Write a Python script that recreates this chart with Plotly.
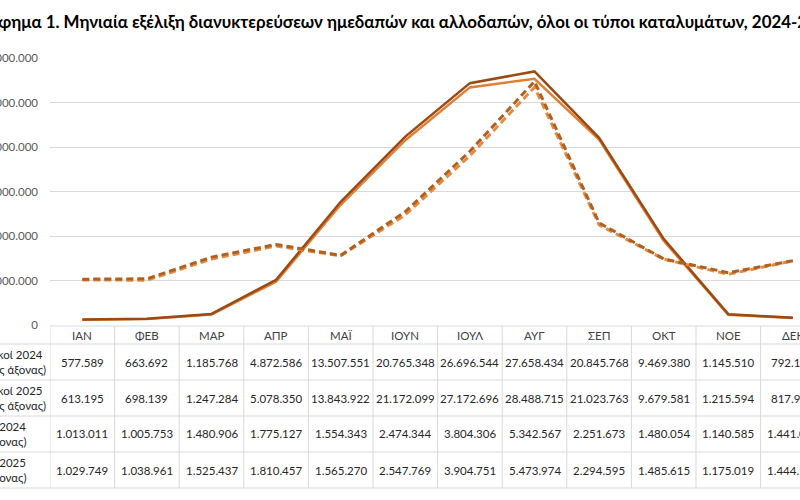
import plotly.graph_objects as go

months = ["ΙΑΝ", "ΦΕΒ", "ΜΑΡ", "ΑΠΡ", "ΜΑΪ", "ΙΟΥΝ", "ΙΟΥΛ", "ΑΥΓ", "ΣΕΠ", "ΟΚΤ", "ΝΟΕ", "ΔΕΚ"]
foreign_2024 = [577589, 663692, 1185768, 4872586, 13507551, 20765348, 26696544, 27658434, 20845768, 9469380, 1145510, 792150]
foreign_2025 = [613195, 698139, 1247284, 5078350, 13843922, 21172099, 27172696, 28488715, 21023763, 9679581, 1215594, 817950]
domestic_2024 = [1013011, 1005753, 1480906, 1775127, 1554343, 2474344, 3804306, 5342567, 2251673, 1480054, 1140585, 1441050]
domestic_2025 = [1029749, 1038961, 1525437, 1810457, 1565270, 2547769, 3904751, 5473974, 2294595, 1485615, 1175019, 1444150]

row_line1 = ["Εξωτερικοί 2024", "Εξωτερικοί 2025", "Ημεδαποί 2024", "Ημεδαποί 2025"]
row_line2 = ["(κύριος άξονας)", "(κύριος άξονας)", "(δευτερεύων άξονας)", "(δευτερεύων άξονας)"]
title = "Γράφημα 1. Μηνιαία εξέλιξη διανυκτερεύσεων ημεδαπών και αλλοδαπών, όλοι οι τύποι καταλυμάτων, 2024-2025"

FONT = "Lato, Roboto, sans-serif"
W, H = 800, 500
L, R, T, B = 50, 0, 58, 175
PH = H - T - B
PW = W - L - R


def py(p):
    return (H - B - p) / PH


def px(p):
    return (p - L) / PW


def fmt(v):
    return f"{v:,}".replace(",", ".")


fig = go.Figure()
fig.add_trace(go.Scatter(x=months, y=foreign_2024, mode="lines", line=dict(color="#E27F35", width=2.5), name="f24"))
fig.add_trace(go.Scatter(x=months, y=foreign_2025, mode="lines", line=dict(color="#9C4A13", width=2.5), name="f25"))
fig.add_trace(go.Scatter(x=months, y=domestic_2024, mode="lines", yaxis="y2",
                         line=dict(color="#E58A42", width=3, dash="7px,4px"), name="d24"))
fig.add_trace(go.Scatter(x=months, y=domestic_2025, mode="lines", yaxis="y2",
                         line=dict(color="#B2601F", width=3, dash="7px,4px"), name="d25"))

grid = "#D9D9D9"
shapes = []
shapes.append(dict(type="line", xref="paper", yref="paper", x0=0, x1=1.2, y0=py(326), y1=py(326),
                   line=dict(color=grid, width=1)))
for yl in [344, 380, 416, 452, 488]:
    shapes.append(dict(type="line", xref="paper", yref="paper", x0=px(-10), x1=1.2, y0=py(yl), y1=py(yl),
                       line=dict(color=grid, width=1)))
for k in range(13):
    shapes.append(dict(type="line", xref="x", yref="paper", x0=k - 0.5, x1=k - 0.5, y0=py(326), y1=py(488),
                       line=dict(color=grid, width=1)))

annotations = []
rows = [foreign_2024, foreign_2025, domestic_2024, domestic_2025]
row_centers = [362, 398, 434, 470]
for r, (vals, cy) in enumerate(zip(rows, row_centers)):
    for k, v in enumerate(vals):
        annotations.append(dict(x=months[k], y=py(cy), xref="x", yref="paper", text=fmt(v), showarrow=False,
                                xanchor="center", yanchor="middle", font=dict(family=FONT, size=11.5, color="#262626")))
right1 = [45, 45, 28, 28]
right2 = [48, 48, 29, 29]
for r, cy in enumerate(row_centers):
    annotations.append(dict(x=px(right1[r]), y=py(cy - 8), xref="paper", yref="paper", text=row_line1[r],
                            showarrow=False, xanchor="right", yanchor="middle",
                            font=dict(family=FONT, size=11.5, color="#262626")))
    annotations.append(dict(x=px(right2[r]), y=py(cy + 7), xref="paper", yref="paper", text=row_line2[r],
                            showarrow=False, xanchor="right", yanchor="middle",
                            font=dict(family=FONT, size=11.5, color="#262626")))
for k, m in enumerate(months):
    annotations.append(dict(x=m, y=py(335), xref="x", yref="paper", text=m, showarrow=False,
                            xanchor="center", yanchor="middle", font=dict(family=FONT, size=11.5, color="#404040")))
annotations.append(dict(x=px(-30), y=py(21), xref="paper", yref="paper", text="<b>" + title + "</b>",
                        showarrow=False, xanchor="left", yanchor="middle",
                        font=dict(family=FONT, size=16.9, color="#000000")))

fig.update_layout(
    width=W, height=H,
    margin=dict(l=L, r=R, t=T, b=B, autoexpand=False),
    paper_bgcolor="white", plot_bgcolor="white",
    separators=",.",
    showlegend=False,
    xaxis=dict(type="category", categoryorder="array", categoryarray=months, range=[-0.5, 11.11],
               showticklabels=False, showgrid=False, zeroline=False, showline=False, ticks="", automargin=False),
    yaxis=dict(range=[0, 30000000], dtick=5000000, tickformat=",d", showgrid=True, gridcolor=grid, gridwidth=1,
               zeroline=False, showline=False, ticks="", ticklabelstandoff=11, automargin=False,
               tickfont=dict(family=FONT, size=11.5, color="#595959")),
    yaxis2=dict(range=[0, 6000000], overlaying="y", side="right", showgrid=False, zeroline=False,
                showticklabels=False, showline=False, automargin=False),
    shapes=shapes,
    annotations=annotations,
)

fig.write_html("out.html")
